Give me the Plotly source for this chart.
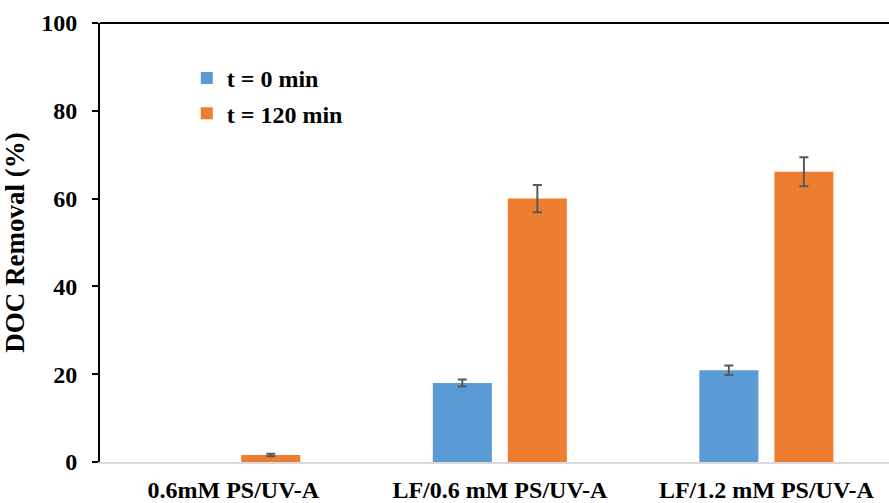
import plotly.graph_objects as go

# Treatment conditions and DOC removal (%) at each sampling time
# (no t = 0 bar is drawn for the PS/UV-A-only run)
categories = ["0.6mM PS/UV-A", "LF/0.6 mM PS/UV-A", "LF/1.2 mM PS/UV-A"]
removal_t0 = [None, 18.0, 20.9]
err_t0 = [None, 0.8, 1.1]
removal_t120 = [1.6, 60.0, 66.1]
err_t120 = [0.3, 3.1, 3.3]
y_ticks = [0, 20, 40, 60, 80, 100]

FONT = "Liberation Serif"
ERR_COLOR = "#595959"
TICK_SIZE = 24

fig = go.Figure()
fig.add_trace(go.Bar(
    x=categories, y=removal_t0, name="t = 0 min", legendgroup="a",
    marker=dict(color="#5B9BD5", line=dict(width=0)),
    error_y=dict(type="data", array=err_t0, visible=True,
                 color=ERR_COLOR, thickness=2, width=4.5),
))
fig.add_trace(go.Bar(
    x=categories, y=removal_t120, name="t = 120 min", legendgroup="b",
    marker=dict(color="#ED7D31", line=dict(width=0)),
    error_y=dict(type="data", array=err_t120, visible=True,
                 color=ERR_COLOR, thickness=2, width=4.5),
))

fig.update_layout(
    width=889, height=503,
    margin=dict(l=100, r=0, t=23, b=41, pad=0),
    paper_bgcolor="white", plot_bgcolor="white",
    barmode="group", bargap=0.437, bargroupgap=0.213,
    font=dict(family=FONT, color="black"),
    showlegend=True,
    legend=dict(
        x=0.11, y=0.925, xanchor="left", yanchor="top",
        bgcolor="rgba(0,0,0,0)",
        font=dict(family=FONT, size=TICK_SIZE, color="black", weight="bold"),
        itemwidth=30, tracegroupgap=1,
    ),
)

fig.update_xaxes(
    type="category", range=[-0.5, 2.46], automargin=False,
    showline=True, linecolor="#D9D9D9", linewidth=1.5,
    showgrid=False, ticks="", ticklabelstandoff=5,
    tickfont=dict(family=FONT, size=TICK_SIZE, color="black", weight="bold"),
    zeroline=False,
)
fig.update_yaxes(
    range=[0, 100], tickvals=y_ticks, automargin=False,
    showline=True, linecolor="black", linewidth=2,
    ticks="outside", ticklen=6, tickwidth=2, tickcolor="black",
    ticklabelstandoff=10,
    showgrid=False, zeroline=False,
    tickfont=dict(family=FONT, size=TICK_SIZE, color="black", weight="bold"),
    title=dict(text="DOC Removal (%)", standoff=14,
               font=dict(family=FONT, size=27, color="black", weight="bold")),
)

# Top frame line of the plotting area
fig.add_shape(type="line", xref="paper", yref="paper",
              x0=0, x1=1, y0=1, y1=1,
              line=dict(color="black", width=2))

fig.write_html("out.html")
